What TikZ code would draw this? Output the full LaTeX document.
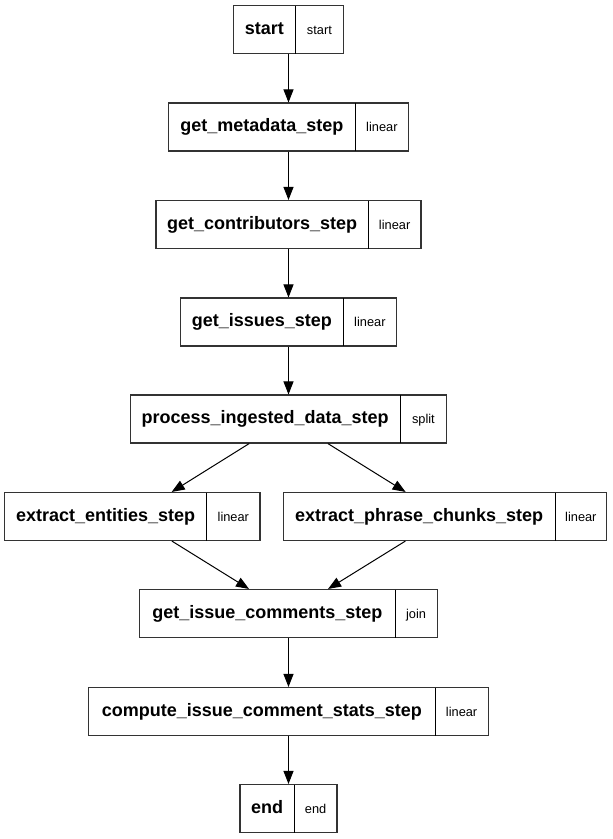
\documentclass[tikz,border=0pt]{standalone}
\usepackage{fontspec}
\setmainfont{Liberation Sans}
\usetikzlibrary{arrows.meta}
\definecolor{boxline}{gray}{0.2}
\tikzset{
  stepbox/.style={draw=boxline, line width=1.1pt, rectangle, inner sep=0pt, minimum height=48pt, fill=white},
  stepdiv/.style={draw=black, line width=1pt},
  mainlbl/.style={inner sep=0pt, anchor=base, font=\fontsize{18}{20}\selectfont\bfseries},
  taglbl/.style={inner sep=0pt, anchor=base, font=\fontsize{12.8}{14}\selectfont},
  edge/.style={draw=black, line width=1pt, -{Triangle[length=13pt,width=10pt]}}
}
% #1 name, #2 left x, #3 divider x, #4 right x, #5 top y, #6 main text, #7 tag text
\newcommand\flowstep[7]{%
  \node[stepbox, minimum width={(#4)-(#2)}] (#1) at ({(#2+#4)/2},{#5+24}) {};
  \draw[stepdiv] (#3,#5) -- (#3,{#5+48});
  \node[mainlbl] (#1-main) at ({(#2+#3)/2},{#5+28.5}) {#6};
  \node[taglbl] (#1-tag) at ({(#3+#4)/2},{#5+28.5}) {#7};
}
\begin{document}
\begin{tikzpicture}[x=1pt,y=-1pt]
\useasboundingbox[fill=white] (0,0) rectangle (613,839);
\flowstep{st}{233.5}{295.3}{343.5}{5.5}{start}{start}
\flowstep{gm}{168.5}{355.3}{408.5}{103}{get\_metadata\_step}{linear}
\flowstep{gc}{156}{368.3}{421}{200.5}{get\_contributors\_step}{linear}
\flowstep{gi}{180.5}{343.3}{396.5}{298}{get\_issues\_step}{linear}
\flowstep{pid}{130.2}{400}{446.8}{395}{process\_ingested\_data\_step}{split}
\flowstep{ee}{4.7}{206.7}{260}{492.5}{extract\_entities\_step}{linear}
\flowstep{ep}{283.3}{555}{606.7}{492.5}{extract\_phrase\_chunks\_step}{linear}
\flowstep{gic}{139.8}{395}{437.2}{589.5}{get\_issue\_comments\_step}{join}
\flowstep{cics}{88.8}{435}{488.2}{687.5}{compute\_issue\_comment\_stats\_step}{linear}
\flowstep{en}{240}{294.3}{337}{784.5}{end}{end}
\draw[edge] (st) -- (gm);
\draw[edge] (gm) -- (gc);
\draw[edge] (gc) -- (gi);
\draw[edge] (gi) -- (pid);
\draw[edge] (pid) -- (ee);
\draw[edge] (pid) -- (ep);
\draw[edge] (ee) -- (gic);
\draw[edge] (ep) -- (gic);
\draw[edge] (gic) -- (cics);
\draw[edge] (cics) -- (en);
\end{tikzpicture}
\end{document}
